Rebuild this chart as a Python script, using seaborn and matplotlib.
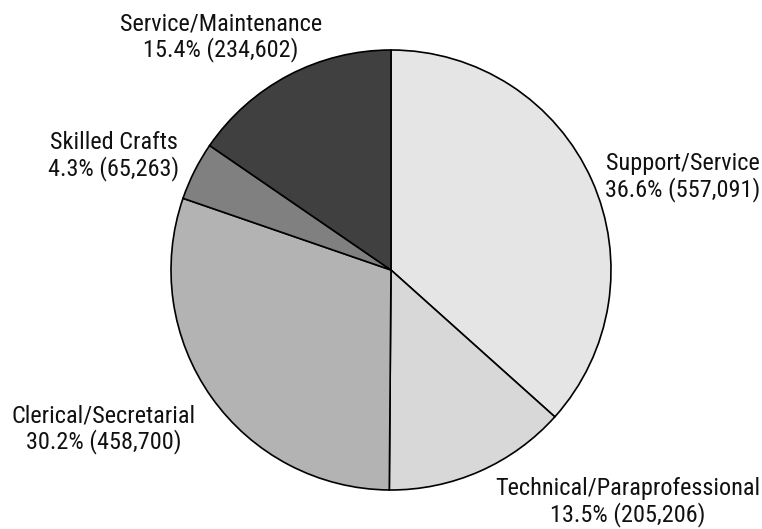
import matplotlib
matplotlib.use("Agg")
import matplotlib.pyplot as plt
import seaborn as sns

categories = ["Support/Service", "Technical/Paraprofessional", "Clerical/Secretarial",
              "Skilled Crafts", "Service/Maintenance"]
counts = [557091, 205206, 458700, 65263, 234602]
percents = [36.6, 13.5, 30.2, 4.3, 15.4]
colors = ["#e5e5e5", "#d8d8d8", "#b3b3b3", "#808080", "#404040"]

sns.set_theme(style="white")
plt.rcParams["font.family"] = ["Roboto Condensed", "DejaVu Sans"]

W, H = 762, 529
fig = plt.figure(figsize=(W / 100, H / 100), dpi=100)
ax = fig.add_axes([0, 0, 1, 1])

ax.pie(counts, colors=colors, startangle=90, counterclock=False,
       center=(391, H - 270), radius=220, frame=True,
       wedgeprops=dict(edgecolor="black", linewidth=1.2))
ax.set_xlim(0, W)
ax.set_ylim(0, H)
ax.set_aspect("equal")
ax.axis("off")

# label anchor points, in pixels from the top-left corner
label_pos = {
    "Support/Service": (683, 177),
    "Technical/Paraprofessional": (628, 502),
    "Clerical/Secretarial": (104, 429),
    "Skilled Crafts": (114, 156),
    "Service/Maintenance": (221, 37),
}
for cat, n, p in zip(categories, counts, percents):
    x, y = label_pos[cat]
    ax.text(x, H - y, f"{cat}\n{p}% ({n:,})", ha="center", va="center",
            fontsize=17.5, fontstretch="condensed", color="#111111",
            linespacing=1.1)

fig.savefig("out.png", dpi=100)
